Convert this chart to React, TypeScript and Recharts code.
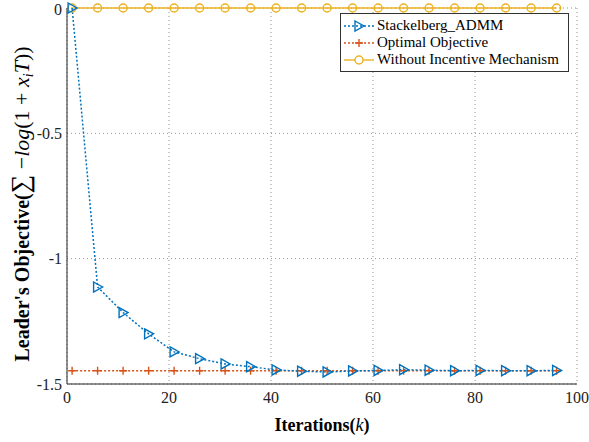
import React from 'react';
import { LineChart, Line, XAxis, YAxis, CartesianGrid } from 'recharts';

const iterations = [1, 6, 11, 16, 21, 26, 31, 36, 41, 46, 51, 56, 61, 66, 71, 76, 81, 86, 91, 96];
const stackelberg = [0, -1.113, -1.215, -1.3, -1.372, -1.399, -1.42, -1.431, -1.444, -1.449, -1.452, -1.448, -1.446, -1.443, -1.445, -1.447, -1.446, -1.447, -1.447, -1.446];
const optimal = [-1.447, -1.447, -1.447, -1.447, -1.447, -1.447, -1.447, -1.447, -1.447, -1.447, -1.447, -1.447, -1.447, -1.447, -1.447, -1.447, -1.447, -1.447, -1.447, -1.447];
const withoutIncentive = [0, 0, 0, 0, 0, 0, 0, 0, 0, 0, 0, 0, 0, 0, 0, 0, 0, 0, 0, 0];
const xTicks = [0, 20, 40, 60, 80, 100];
const yTicks = [-1.5, -1, -0.5, 0];

const BLUE = '#0072BD';
const ORANGE = '#D95319';
const YELLOW = '#EDB120';
const FONT = 'Liberation Serif, Times New Roman, DejaVu Serif, serif';

const data = iterations.map((k, i) => ({
  k,
  stackelberg: stackelberg[i],
  optimal: optimal[i],
  without: withoutIncentive[i],
}));

const Triangle = (props: any) => {
  const { cx, cy } = props;
  if (cx == null || cy == null) return null;
  return (
    <path
      d={`M${cx - 4},${cy - 5} L${cx + 5},${cy} L${cx - 4},${cy + 5} Z`}
      fill="none"
      stroke={BLUE}
      strokeWidth={1.4}
    />
  );
};

const Plus = (props: any) => {
  const { cx, cy } = props;
  if (cx == null || cy == null) return null;
  return (
    <path
      d={`M${cx - 4},${cy} L${cx + 4},${cy} M${cx},${cy - 4} L${cx},${cy + 4}`}
      stroke={ORANGE}
      strokeWidth={1.4}
    />
  );
};

const Circle = (props: any) => {
  const { cx, cy } = props;
  if (cx == null || cy == null) return null;
  return <circle cx={cx} cy={cy} r={4} fill="none" stroke={YELLOW} strokeWidth={1.4} />;
};

const legendItems = [
  { name: 'Stackelberg_ADMM', color: BLUE, dash: '2 2', marker: 'tri' },
  { name: 'Optimal Objective', color: ORANGE, dash: '2 2', marker: 'plus' },
  { name: 'Without Incentive Mechanism', color: YELLOW, dash: undefined, marker: 'circle' },
];

const LegendBox = () => (
  <div
    style={{
      position: 'absolute',
      top: 13,
      left: 340,
      width: 226,
      background: 'white',
      border: '1px solid #333',
      padding: '3px 0 3px 1px',
      fontFamily: FONT,
      fontSize: 15,
      lineHeight: '17px',
      color: '#000',
    }}
  >
    {legendItems.map((it) => (
      <div key={it.name} style={{ display: 'flex', alignItems: 'center', whiteSpace: 'nowrap' }}>
        <svg width={34} height={14} style={{ marginRight: 1 }}>
          <line x1={2} y1={7} x2={32} y2={7} stroke={it.color} strokeWidth={1.4} strokeDasharray={it.dash} />
          {it.marker === 'tri' && <path d="M13,2 L22,7 L13,12 Z" fill="none" stroke={it.color} strokeWidth={1.4} />}
          {it.marker === 'plus' && <path d="M13,7 L21,7 M17,3 L17,11" stroke={it.color} strokeWidth={1.4} />}
          {it.marker === 'circle' && <circle cx={17} cy={7} r={4} fill="white" stroke={it.color} strokeWidth={1.4} />}
        </svg>
        <span>{it.name}</span>
      </div>
    ))}
  </div>
);

const YLabel = () => {
  const cx = 29;
  const cy = 204;
  return (
    <text
      x={cx}
      y={cy}
      transform={`rotate(-90, ${cx}, ${cy})`}
      textAnchor="middle"
      fontFamily={FONT}
      fontSize={20}
      fill="#000"
    >
      <tspan fontWeight="bold">Leader's Objective(</tspan>
      <tspan fontSize={26}>∑</tspan>
      <tspan fontSize={22}> −</tspan>
      <tspan fontSize={22} fontStyle="italic">log</tspan>
      <tspan fontSize={22}>(1 + </tspan>
      <tspan fontSize={22} fontStyle="italic">x</tspan>
      <tspan fontStyle="italic" fontSize={14} dy={4}>i</tspan>
      <tspan fontSize={22} fontStyle="italic" dy={-4}>T</tspan>
      <tspan fontSize={22}>))</tspan>
    </text>
  );
};

const XLabel = (props: any) => {
  const vb = props.viewBox || {};
  const cx = vb.x + vb.width / 2;
  return (
    <text x={cx} y={431} textAnchor="middle" fontFamily={FONT} fontSize={18} fill="#000">
      <tspan fontWeight="bold">Iterations(</tspan>
      <tspan fontStyle="italic">k</tspan>
      <tspan fontWeight="bold">)</tspan>
    </text>
  );
};

const fmtY = (v: number) => (v === 0 ? '0' : String(v));

export default function App() {
  return (
    <div style={{ position: 'absolute', left: 0, top: 0, width: 589, height: 442, background: 'white' }}>
      <LineChart width={589} height={442} data={data} margin={{ top: 8, right: 12, left: 0, bottom: 0 }}>
        <CartesianGrid stroke="#777" strokeDasharray="1 3" strokeWidth={0.8} />
        <XAxis
          dataKey="k"
          type="number"
          domain={[0, 100]}
          ticks={xTicks}
          height={58}
          axisLine={{ stroke: '#222' }}
          tickLine={false}
          tickSize={0}
          tickMargin={8}
          tick={{ fontFamily: FONT, fontSize: 16, fill: '#222' }}
          label={{ content: XLabel }}
        />
        <XAxis
          xAxisId="top"
          dataKey="k"
          type="number"
          orientation="top"
          domain={[0, 100]}
          ticks={xTicks}
          height={0}
          tick={false}
          tickLine={false}
          axisLine={{ stroke: '#222' }}
        />
        <YAxis
          type="number"
          domain={[-1.5, 0]}
          ticks={yTicks}
          width={67}
          axisLine={{ stroke: '#222' }}
          tickLine={false}
          tickSize={0}
          tickMargin={5}
          tickFormatter={fmtY}
          tick={{ fontFamily: FONT, fontSize: 16, fill: '#222' }}
          label={{ content: YLabel }}
        />
        <YAxis
          yAxisId="right"
          orientation="right"
          type="number"
          domain={[-1.5, 0]}
          ticks={yTicks}
          width={0}
          tick={false}
          tickLine={false}
          axisLine={{ stroke: '#222' }}
        />
        <Line
          dataKey="without"
          stroke={YELLOW}
          strokeWidth={1.5}
          dot={<Circle />}
          isAnimationActive={false}
        />
        <Line
          dataKey="optimal"
          stroke={ORANGE}
          strokeWidth={1.5}
          strokeDasharray="2 2"
          dot={<Plus />}
          isAnimationActive={false}
        />
        <Line
          dataKey="stackelberg"
          stroke={BLUE}
          strokeWidth={1.5}
          strokeDasharray="2 2"
          dot={<Triangle />}
          isAnimationActive={false}
        />
      </LineChart>
      <LegendBox />
    </div>
  );
}
